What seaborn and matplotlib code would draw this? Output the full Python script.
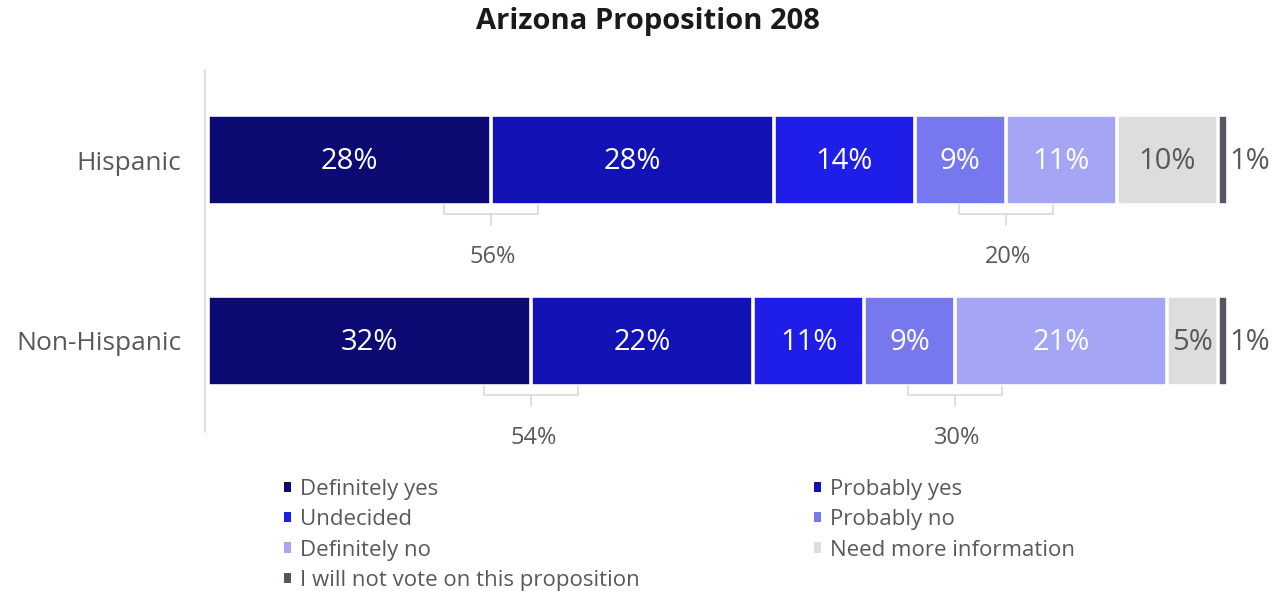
import matplotlib
matplotlib.use("Agg")
import matplotlib.pyplot as plt
import seaborn as sns
import numpy as np
from matplotlib.patches import Patch

# data
groups = ["Hispanic", "Non-Hispanic"]
answers = ["Definitely yes", "Probably yes", "Undecided", "Probably no",
           "Definitely no", "Need more information",
           "I will not vote on this proposition"]
hispanic = [28, 28, 14, 9, 11, 10, 1]
non_hispanic = [32, 22, 11, 9, 21, 5, 1]
colors = ["#0B0B73", "#1313B5", "#1E1EE8", "#7777EE", "#A5A5F5", "#DCDDDF", "#55575E"]

gray_txt = "#595959"

sns.set_style("white")
plt.rcParams['font.family'] = ['Open Sans', 'DejaVu Sans']

fig = plt.figure(figsize=(12.74, 5.91), dpi=100)
ax = fig.add_axes([205 / 1274, 1 - 431.5 / 591, 1023 / 1274, 362 / 591])

values = np.array([hispanic, non_hispanic])
cum = values.cumsum(axis=1)

# stacked bars: draw cumulative totals from longest to shortest
for j in range(len(answers) - 1, -1, -1):
    sns.barplot(x=cum[:, j], y=groups, orient="h", color=colors[j],
                saturation=1, width=0.495, edgecolor="white", linewidth=2.6,
                ax=ax)

# segment labels
for i in range(len(groups)):
    for j in range(len(answers)):
        left = cum[i, j] - values[i, j]
        label = f"{values[i, j]}%"
        if j == len(answers) - 1:
            ax.text(cum[i, j] + 0.1, i + 0.01, label, ha="left", va="center",
                    fontsize=21, color=gray_txt)
        else:
            c = gray_txt if j == 5 else "white"
            ax.text(left + values[i, j] / 2, i + 0.01, label, ha="center",
                    va="center", fontsize=21, color=c)

# brackets for net yes / net no
half = 4.65
for i in range(len(groups)):
    for b, total in [(cum[i, 0], values[i, 0] + values[i, 1]),
                     (cum[i, 3], values[i, 3] + values[i, 4])]:
        ax.plot([b - half, b - half, b + half, b + half],
                [i + 0.25, i + 0.30, i + 0.30, i + 0.25],
                color="#D9D9D9", lw=1.2, solid_joinstyle="round")
        ax.plot([b, b], [i + 0.30, i + 0.36], color="#D9D9D9", lw=1.2)
        ax.text(b + 0.2, i + 0.535, f"{total}%", ha="center", va="center",
                fontsize=17, color=gray_txt)

ax.set_xlim(-0.3, 101.0)
ax.set_ylim(1.5, -0.5)
ax.set_xticks([])
ax.set_xlabel("")
ax.set_ylabel("")
for s in ["top", "right", "bottom"]:
    ax.spines[s].set_visible(False)
ax.spines["left"].set_color("#D9D9D9")
ax.spines["left"].set_linewidth(1.2)
ax.set_yticks([0, 1])
ax.set_yticklabels(groups, fontsize=19, color=gray_txt)
ax.set_yticks([-0.5, 0.5, 1.5], minor=True)
ax.tick_params(axis="y", which="major", length=0, pad=17)
ax.tick_params(axis="y", which="minor", length=6, width=1.2, color="#D9D9D9")
ax.grid(False)

# title
fig.text(648 / 1274, 1 - 29 / 591, "Arizona Proposition 208", ha="center",
         va="baseline", fontsize=21, fontweight="bold", color="#1A1A1A")

# legend in two columns (row-major order)
handles = [Patch(facecolor=c, edgecolor="none") for c in colors]
col1 = [0, 2, 4, 6]
col2 = [1, 3, 5]
leg_kw = dict(frameon=False, handlelength=0.33, handleheight=0.33,
              handletextpad=0.4, labelspacing=0.42, borderaxespad=0,
              labelcolor=gray_txt, prop={"size": 16})
fig.legend([handles[k] for k in col1], [answers[k] for k in col1],
           loc="upper left", bbox_to_anchor=(275 / 1274, 1 - 470 / 591), **leg_kw)
fig.legend([handles[k] for k in col2], [answers[k] for k in col2],
           loc="upper left", bbox_to_anchor=(805 / 1274, 1 - 470 / 591), **leg_kw)

fig.savefig("out.png", dpi=100)
